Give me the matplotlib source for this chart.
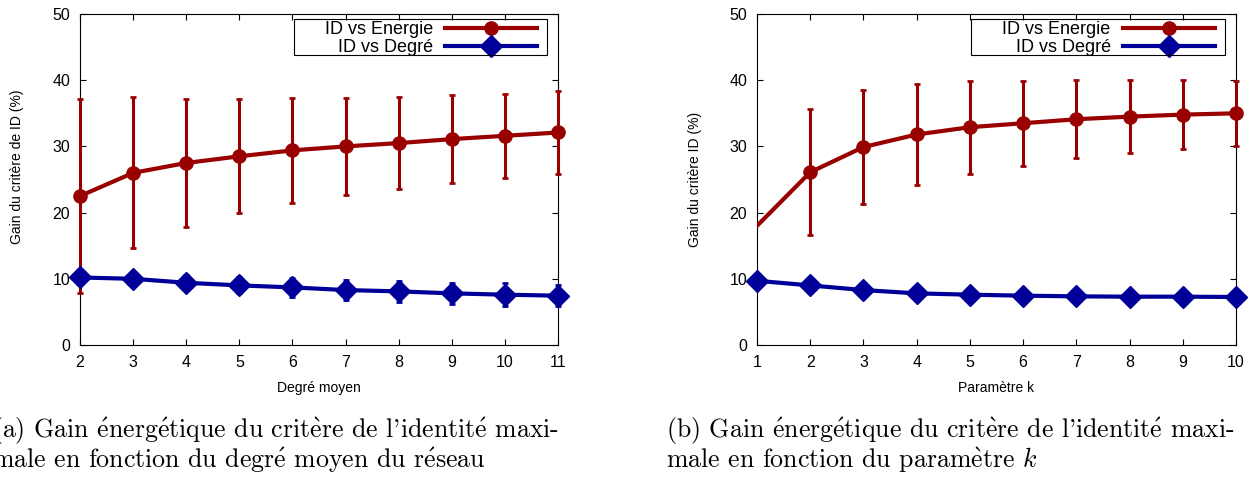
import matplotlib
matplotlib.use('Agg')
import matplotlib.pyplot as plt
from matplotlib.patches import Rectangle

# ---- data ----
deg_x = [2, 3, 4, 5, 6, 7, 8, 9, 10, 11]
deg_energie = [22.5, 26.0, 27.5, 28.5, 29.4, 30.0, 30.5, 31.1, 31.6, 32.1]
deg_energie_err = [14.6, 11.4, 9.7, 8.6, 7.9, 7.3, 6.95, 6.6, 6.35, 6.2]
deg_degre = [10.2, 10.0, 9.4, 9.0, 8.7, 8.3, 8.1, 7.8, 7.6, 7.45]
deg_degre_err = [0.3, 0.5, 1.1, 1.2, 1.4, 1.5, 1.6, 1.6, 1.7, 1.6]

k_x = [1, 2, 3, 4, 5, 6, 7, 8, 9, 10]
k_energie = [18.0, 26.1, 29.9, 31.8, 32.9, 33.5, 34.1, 34.5, 34.8, 35.0]
k_energie_err = [0.0, 9.5, 8.6, 7.7, 7.0, 6.4, 5.9, 5.55, 5.25, 4.95]
k_degre = [9.7, 9.0, 8.3, 7.8, 7.6, 7.45, 7.35, 7.3, 7.3, 7.25]
k_degre_err = [0.3, 0.5, 1.0, 1.0, 0.9, 0.8, 0.7, 0.6, 0.6, 0.5]

labels = ['ID vs Energie', 'ID vs Degré']
red = '#990000'
blue = '#000099'

plt.rcParams['font.family'] = ['Liberation Sans', 'DejaVu Sans']
plt.rcParams['mathtext.fontset'] = 'cm'

W, H = 1251, 479
fig = plt.figure(figsize=(W / 100, H / 100), dpi=100)


def px_axes(x0, x1, y0, y1):
    # y0 = top pixel, y1 = bottom pixel
    return fig.add_axes([x0 / W, 1 - y1 / H, (x1 - x0) / W, (y1 - y0) / H])


def draw_panel(ax, x, en, en_err, dg, dg_err, xlabel, ylabel, skip_first):
    start = 1 if skip_first else 0
    # energie
    ax.plot(x, en, color=red, lw=3, zorder=3, clip_on=skip_first)
    ax.errorbar(x[start:], en[start:], yerr=en_err[start:], fmt='none', ecolor=red,
                elinewidth=2.2, capsize=2, capthick=2, zorder=3, clip_on=False)
    ax.plot(x[start:], en[start:], ls='none', marker='o', ms=9.5, color=red,
            zorder=4, clip_on=False)
    # degre
    ax.errorbar(x, dg, yerr=dg_err, fmt='none', ecolor=blue,
                elinewidth=2.2, capsize=2, capthick=2, zorder=5, clip_on=False)
    ax.plot(x, dg, color=blue, lw=3, marker='D', ms=11.5, zorder=5, clip_on=False)

    # legend (gnuplot style: text right, sample left, boxed)
    h1, = ax.plot([], [], color=red, lw=3, marker='o', ms=9.5)
    h2, = ax.plot([], [], color=blue, lw=3, marker='D', ms=11.5)
    ax.legend([h1, h2], labels, loc='upper right', bbox_to_anchor=(0.956, 0.979),
              borderaxespad=0, markerfirst=False, numpoints=1, fontsize=13,
              handlelength=5.1, handletextpad=0.67, labelspacing=0.05,
              borderpad=0, frameon=False)
    ax.add_patch(Rectangle((0.4477, 0.876), 0.977 - 0.4477, 0.985 - 0.876,
                           transform=ax.transAxes, fill=False, ec='black',
                           lw=0.8, zorder=6))

    ax.set_xlim(x[0], x[-1])
    ax.set_ylim(0, 50)
    ax.set_xticks(x)
    ax.set_yticks([0, 10, 20, 30, 40, 50])
    ax.tick_params(direction='in', top=True, right=True, length=4.5, width=0.8,
                   labelsize=11.5, pad=7)
    ax.set_xlabel(xlabel, fontsize=10, labelpad=8)
    ax.set_ylabel(ylabel, fontsize=10)
    for s in ax.spines.values():
        s.set_linewidth(0.8)
        s.set_zorder(2)


ax1 = px_axes(80, 558, 14, 345)
draw_panel(ax1, deg_x, deg_energie, deg_energie_err, deg_degre, deg_degre_err,
           'Degré moyen', 'Gain du critère de ID (%)', False)
ax1.yaxis.set_label_coords(-56 / 478, 0.54)

ax2 = px_axes(757, 1236, 14, 345)
draw_panel(ax2, k_x, k_energie, k_energie_err, k_degre, k_degre_err,
           'Paramètre k', 'Gain du critère ID (%)', True)
ax2.yaxis.set_label_coords(-55 / 479, 0.50)

# captions (LaTeX-like serif, accents through mathtext)
e_ac = r'$\mathrm{\acute{e}}$'
e_gr = r'$\mathrm{\grave{e}}$'
cap_font = dict(family=['cmr10', 'DejaVu Serif'], fontsize=18.6)
cap_a1 = f"(a) Gain {e_ac}nerg{e_ac}tique du crit{e_gr}re de l'identit{e_ac} maxi-"
cap_a2 = f"male en fonction du degr{e_ac} moyen du r{e_ac}seau"
cap_b1 = f"(b) Gain {e_ac}nerg{e_ac}tique du crit{e_gr}re de l'identit{e_ac} maxi-"
cap_b2 = f"male en fonction du param{e_gr}tre " + r"$k$"
fig.text(-8 / W, 1 - 438 / H, cap_a1, ha='left', va='baseline', **cap_font)
fig.text(-8 / W, 1 - 468 / H, cap_a2, ha='left', va='baseline', **cap_font)
fig.text(666 / W, 1 - 438 / H, cap_b1, ha='left', va='baseline', **cap_font)
fig.text(666 / W, 1 - 468 / H, cap_b2, ha='left', va='baseline', **cap_font)

fig.savefig('out.png', dpi=100)
